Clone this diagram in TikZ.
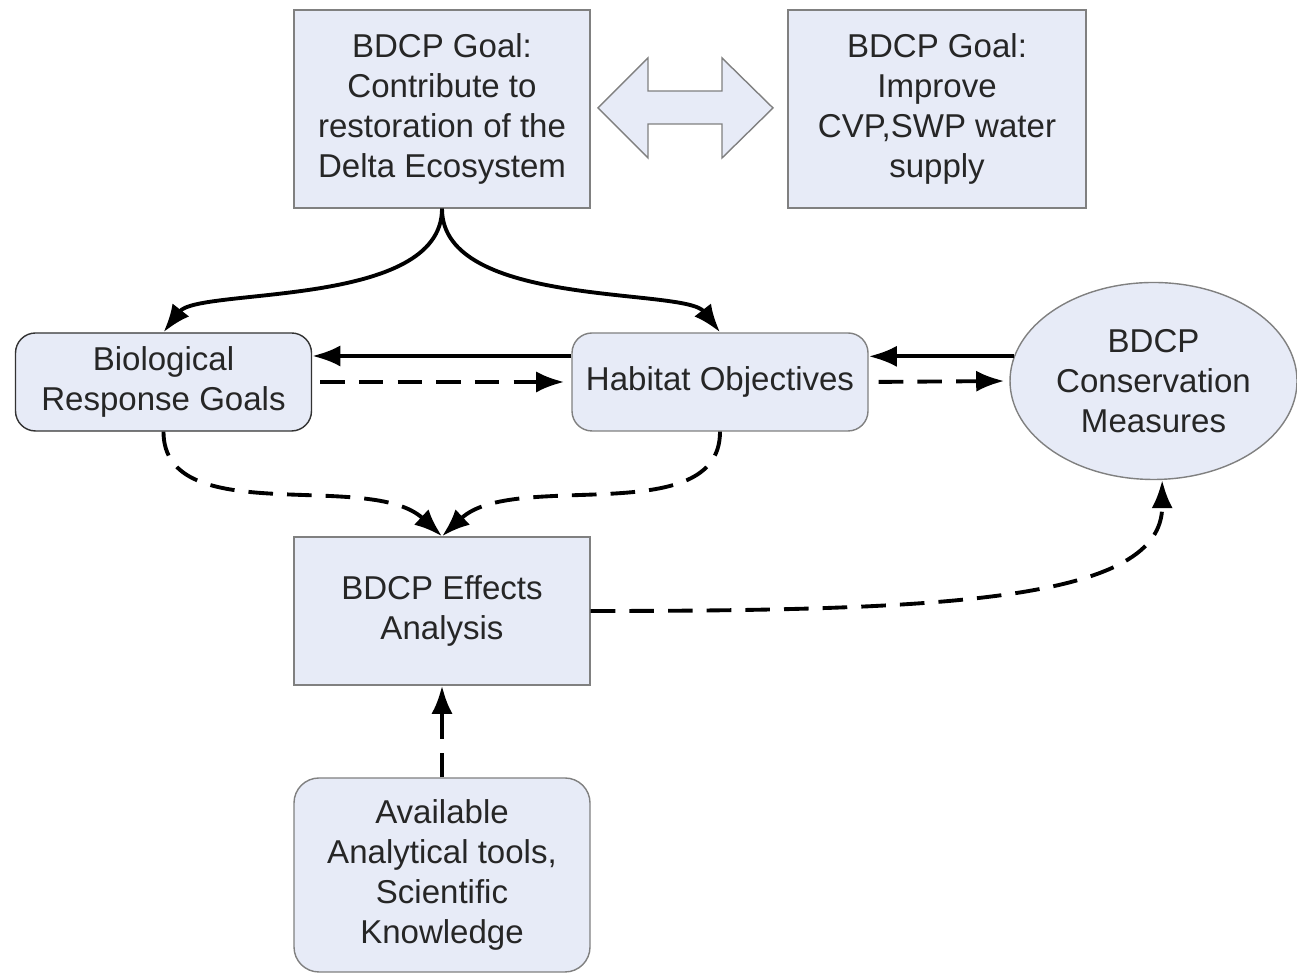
\documentclass[tikz,border=0pt]{standalone}
\usepackage{fontspec}
\setmainfont{Liberation Sans}
\usepackage{tikz}
\usetikzlibrary{arrows.meta}
\usetikzlibrary{shapes.geometric}
\usepackage{xcolor}
\definecolor{boxfill}{RGB}{231,235,247}
\definecolor{boxline}{RGB}{128,128,128}

\begin{document}
\begin{tikzpicture}[x=1cm,y=1cm,
  font=\fontsize{9.4}{11.3}\selectfont,
  every node/.style={text=black!85, align=center, inner sep=0pt},
  goalbox/.style={draw=boxline, fill=boxfill, minimum width=2.96cm, minimum height=1.98cm},
  roundbox/.style={draw=boxline, fill=boxfill, rounded corners=0.2cm, minimum width=2.96cm, minimum height=0.98cm},
  tip/.style={-{Latex[length=8pt,width=6pt]}, line width=1.1pt},
  dashtip/.style={tip, dash pattern=on 7pt off 4pt}]
\useasboundingbox (0,0) rectangle (12.97,9.74);

% top goals
\node[goalbox] (goal1) at (4.42,8.65) {BDCP Goal:\\Contribute to\\restoration of the\\Delta Ecosystem};
\node[goalbox, minimum width=2.98cm] (goal2) at (9.37,8.65) {BDCP Goal:\\Improve\\CVP,SWP water\\supply};
\draw[boxline, fill=boxfill] (5.98,8.66) -- (6.48,9.16) -- (6.48,8.83) -- (7.22,8.83) -- (7.22,9.16)
  -- (7.73,8.66) -- (7.22,8.16) -- (7.22,8.50) -- (6.48,8.50) -- (6.48,8.16) -- cycle;

% middle row
\node[roundbox, draw=black!80] (bio) at (1.635,5.92) {Biological\\Response Goals};
\node[roundbox] (hab) at (7.20,5.92) {Habitat Objectives};
\node[draw=boxline, fill=boxfill, ellipse, minimum width=2.87cm, minimum height=1.97cm] (cm) at (11.535,5.93) {BDCP\\Conservation\\Measures};

% bottom
\node[goalbox, minimum height=1.48cm] (eff) at (4.42,3.63) {BDCP Effects\\Analysis};
\node[roundbox, rounded corners=0.25cm, minimum height=1.94cm] (avail) at (4.42,0.99) {Available\\Analytical tools,\\Scientific\\Knowledge};

\draw[tip] (goal1.south) .. controls +(0,-1.0) and +(0.35,0.45) .. (bio.north);
\draw[tip] (goal1.south) .. controls +(0,-1.0) and +(-0.35,0.45) .. (hab.north);
\draw[tip] ([yshift=2.6mm]hab.west) -- ([yshift=2.6mm]bio.east);
\draw[tip] (cm.170) -- (cm.170 -| hab.east);
\draw[dashtip, shorten <=0.8mm, shorten >=0.7mm] (bio.east) -- (hab.west);
\draw[dashtip, shorten <=1mm, shorten >=0.5mm] (hab.east) -- (cm.west);
\draw[dashtip] (bio.south) .. controls +(0,-0.99) and +(-0.72,0.67) .. (eff.north);
\draw[dashtip] (hab.south) .. controls +(0,-0.99) and +(0.72,0.67) .. (eff.north);
\draw[dashtip] (avail.north) -- (eff.south);
\draw[dashtip] (eff.east) .. controls +(3.6,0) and +(0,-1.2) .. (cm.-85);
\end{tikzpicture}
\end{document}
